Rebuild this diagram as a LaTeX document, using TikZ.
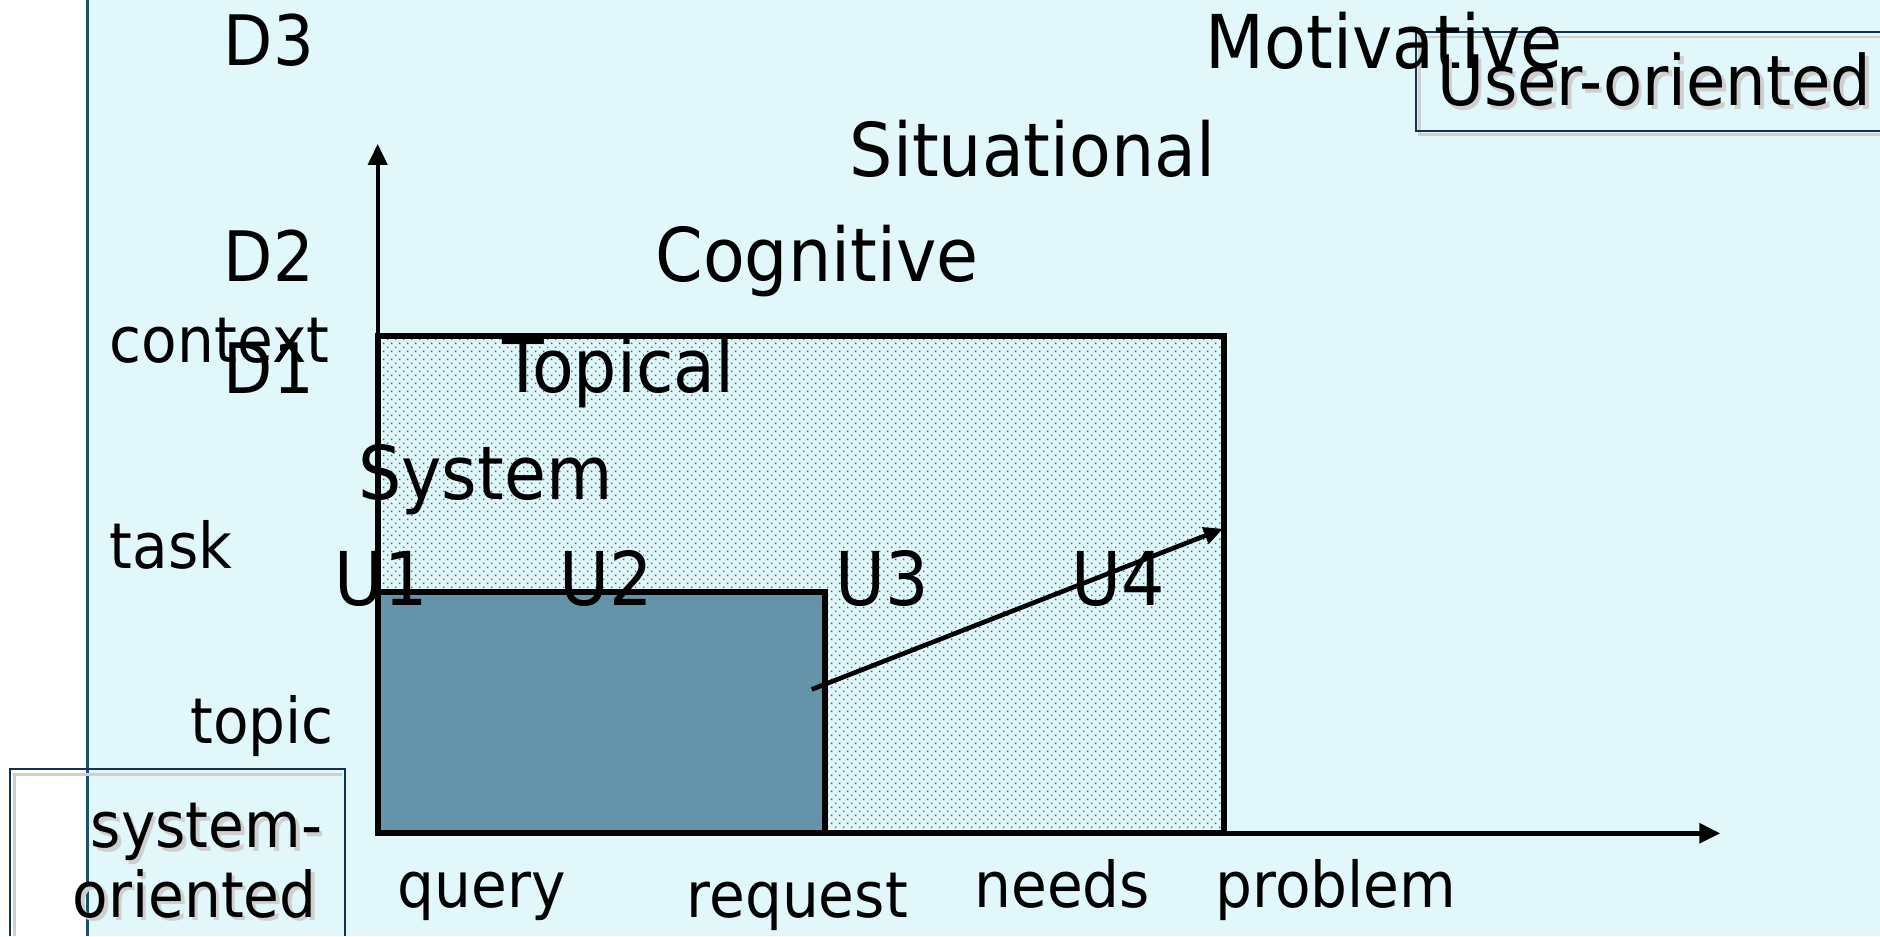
\documentclass[tikz,border=0pt]{standalone}
\usepackage{fontspec}
\setmainfont[FakeStretch=0.92]{DejaVu Sans}
\usetikzlibrary{arrows.meta,patterns.meta}
\definecolor{bg}{HTML}{E1F7FA}
\definecolor{edgeblue}{HTML}{1B4F6B}
\definecolor{navy}{HTML}{12324D}
\definecolor{dotblue}{HTML}{1F6E8C}
\definecolor{innerfill}{HTML}{6593AA}
\definecolor{shadowgray}{HTML}{CFCFCF}
\tikzdeclarepattern{
  name=finedots,
  type=uncolored,
  bounding box={(0pt,0pt) and (2pt,2pt)},
  tile size={(2pt,2pt)},
  code={
    \fill (0pt,0pt) rectangle (0.36pt,0.36pt);
    \fill (1pt,1pt) rectangle (1.36pt,1.36pt);
  }
}
\begin{document}
\begin{tikzpicture}[x=0.01cm,y=-0.01cm,
  big/.style={inner sep=0pt, anchor=base west, font=\fontsize{17.6}{20}\selectfont},
  mid/.style={inner sep=0pt, anchor=base west, font=\fontsize{16.5}{19}\selectfont},
  small/.style={inner sep=0pt, anchor=base west, font=\fontsize{15}{18}\selectfont},
  shad/.style={text=shadowgray},
  axis/.style={line width=1.3pt},
  box/.style={line width=1.4pt},
  tip/.style={-{Triangle[length=5pt,width=4.5pt]}}]
\path[use as bounding box] (0,0) rectangle (1568,781);
\fill[bg] (73,0) rectangle (1568,781);
\draw[edgeblue, line width=0.6pt] (73,0) -- (73,781);

% coordinates
\coordinate (O) at (315,695);
\coordinate (Ytop) at (315,120);
\coordinate (Xend) at (1435,695);
\coordinate (OuterTR) at (1021,280);
\coordinate (InnerTR) at (688,494);
\coordinate (ArrS) at (677,575);
\coordinate (ArrE) at (1020,441);

% regions
\fill[pattern=finedots, pattern color=dotblue] (O) rectangle (OuterTR);
\fill[innerfill] (O) rectangle (InnerTR);
\draw[box] (O) rectangle (OuterTR);
\draw[box] (O) rectangle (InnerTR);

% axes
\draw[line width=1pt, tip] (O) -- (Ytop);
\draw[axis, tip] (O) -- (Xend);
\draw[line width=1.1pt, -{Triangle[length=4.5pt,width=4pt]}] (ArrS) -- (ArrE);

% boxes
\draw[shadowgray, line width=0.6pt] (1568,112) -- (1184,112) -- (1184,31) -- (1568,31);
\draw[navy, line width=0.5pt] (1568,109) -- (1181,109) -- (1181,27) -- (1568,27);
\draw[shadowgray, line width=0.6pt] (12,781) -- (12,646) -- (285,646);
\draw[navy, line width=0.5pt] (8,781) -- (8,641) -- (288,641) -- (288,781);

% labels
\node[mid] (d3) at (186,55) {D3};
\node[mid] (d2) at (186,235) {D2};
\node[mid] (d1) at (186,328) {D1};
\node[small] (context) at (91,302) {context};
\node[small] (task) at (91,474) {task};
\node[small] (topic) at (158,620) {topic};

\node[big] (motiv) at (1005,57) {Motivative};
\node[big] (situ) at (708,147) {Situational};
\node[big] (cogn) at (546,235) {Cognitive};
\node[big] (topical) at (418,327) {Topical};
\node[big] (system) at (298,417) {System};
\node[big] (u1) at (278,505) {U1};
\node[big] (u2) at (466,505) {U2};
\node[big] (u3) at (696,505) {U3};
\node[big] (u4) at (893,505) {U4};

\node[mid, shad] (usershadow) at (1201,91) {User-oriented};
\node[mid] (user) at (1198,88) {User-oriented};
\node[small, shad] (sysshadow1) at (78,710) {system-};
\node[small] (sys1) at (75,707) {system-};
\node[small, shad] (sysshadow2) at (63,768) {oriented};
\node[small] (sys2) at (60,765) {oriented};

\node[small] (query) at (331,757) {query};
\node[small] (request) at (572,765) {request};
\node[small] (needs) at (812,757) {needs};
\node[small] (problem) at (1013,757) {problem};
\end{tikzpicture}
\end{document}
